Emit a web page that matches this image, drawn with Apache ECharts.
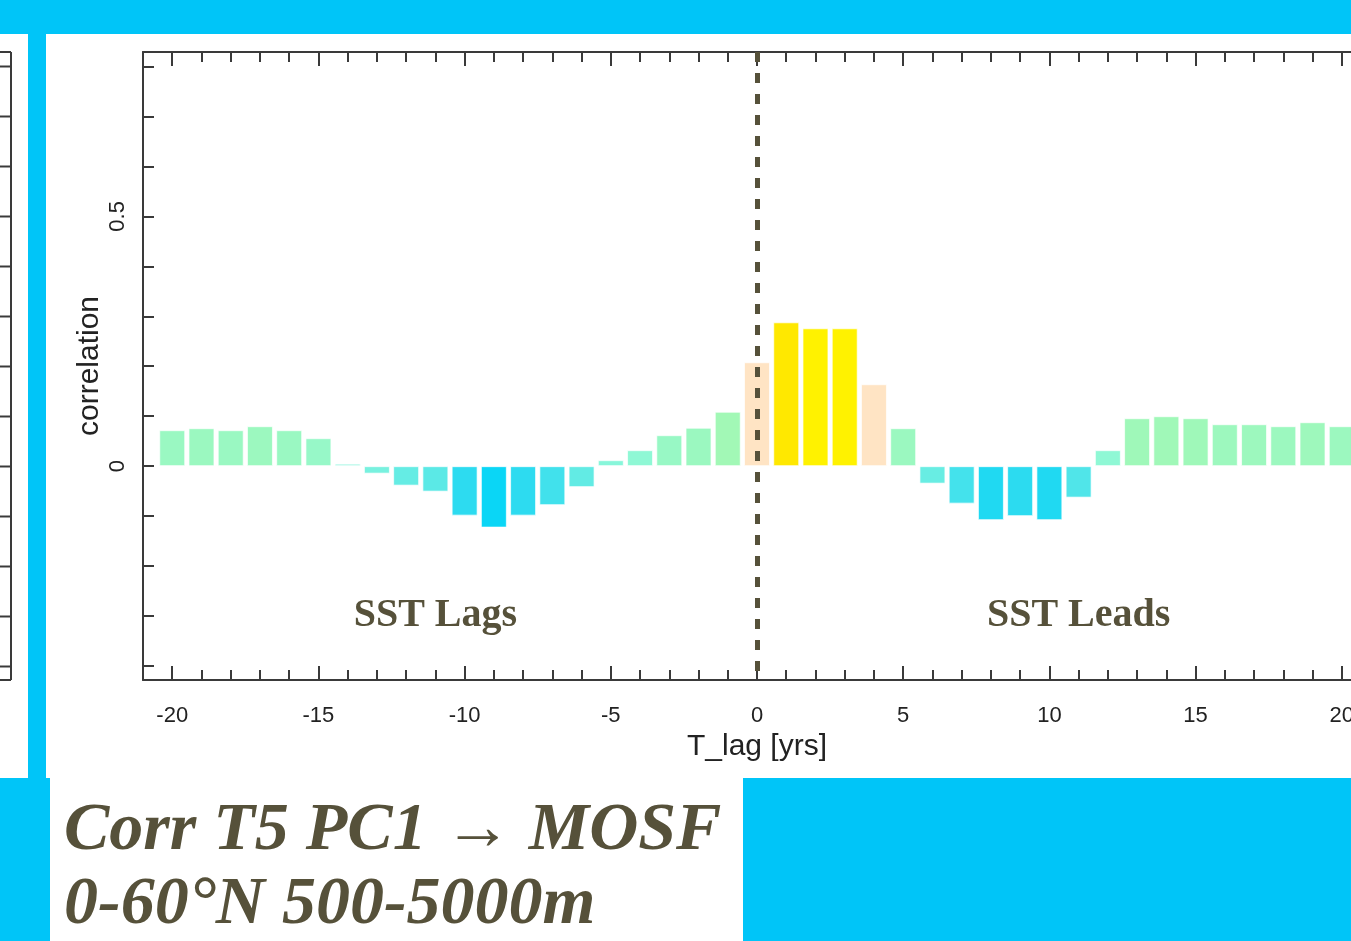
<!DOCTYPE html>
<html>
<head>
<meta charset="utf-8">
<style>
html,body{margin:0;padding:0;background:#00C5F8;overflow:hidden;width:1351px;height:941px;}
#chart{width:1400px;height:941px;}
</style>
<script src="https://cdn.jsdelivr.net/npm/echarts@6/dist/echarts.min.js"></script>
</head>
<body>
<div id="chart"></div>
<script>
// ---- data ----
var lags = [-20,-19,-18,-17,-16,-15,-14,-13,-12,-11,-10,-9,-8,-7,-6,-5,-4,-3,-2,-1,0,1,2,3,4,5,6,7,8,9,10,11,12,13,14,15,16,17,18,19,20];
var corr = [0.072,0.076,0.072,0.080,0.072,0.056,0.005,-0.015,-0.039,-0.051,-0.099,-0.123,-0.099,-0.078,-0.042,0.012,0.032,0.062,0.077,0.109,
            0.208,0.288,0.276,0.276,0.164,0.076,-0.035,-0.075,-0.108,-0.100,-0.108,-0.063,0.032,0.096,0.100,0.096,0.084,0.084,0.080,0.088,0.080];
var xMajorTicks = [-20,-15,-10,-5,0,5,10,15,20];
var yTicks = [-0.4,-0.3,-0.2,-0.1,0,0.1,0.2,0.3,0.4,0.5,0.6,0.7,0.8];
var yLabels = [0,0.5];
var regionLabels = [{name:'SST Lags', x:-11, y:-0.3},{name:'SST Leads', x:11, y:-0.3}];
var titleLines = ['Corr T5 PC1 \u2192 MOSF','0-60\u00B0N 500-5000m'];
var xName = 'T_lag [yrs]';
var yName = 'correlation';

// ---- colour map (value -> colour) ----
function hex(c){return [parseInt(c.substr(1,2),16),parseInt(c.substr(3,2),16),parseInt(c.substr(5,2),16)];}
var stops = [[-0.13,'#00D4F8'],[-0.10,'#2CDBF0'],[-0.075,'#44E2EC'],[-0.05,'#5CE9E6'],[-0.02,'#74F0E0'],[0.0,'#84F4DC'],[0.03,'#8EF8D6'],[0.06,'#98F8C6'],[0.10,'#A0F8B8'],[0.13,'#A6F8B2']];
function colorFor(v){
  if (v >= 0.285) return '#FFE800';
  if (v >= 0.25) return '#FFF200';
  if (v >= 0.14) return '#FFE4C4';
  if (v <= stops[0][0]) return stops[0][1];
  for (var i=1;i<stops.length;i++){
    if (v <= stops[i][0]){
      var a=stops[i-1], b=stops[i], t=(v-a[0])/(b[0]-a[0]);
      var ca=hex(a[1]), cb=hex(b[1]);
      return 'rgb('+Math.round(ca[0]+(cb[0]-ca[0])*t)+','+Math.round(ca[1]+(cb[1]-ca[1])*t)+','+Math.round(ca[2]+(cb[2]-ca[2])*t)+')';
    }
  }
  return stops[stops.length-1][1];
}

var ink = '#56513A';
var axisCol = '#3a3a3a';
var allInts = lags.slice();

var chart = echarts.init(document.getElementById('chart'));
var barData = lags.map(function(l,i){return {value:[l,corr[i]], itemStyle:{color:colorFor(corr[i])}};});

var yMin = -0.428, yMax = 0.829, xMin = -21, xMax = 21;

function xAx(pos, ticks, len, showLine, labels){
  return {
    type:'value', gridIndex:0, position:pos, min:xMin, max:xMax,
    axisLine:{show:showLine, onZero:false, lineStyle:{color:axisCol,width:2}},
    axisTick:{show:true, inside:true, length:len, customValues:ticks, lineStyle:{color:axisCol,width:2}},
    axisLabel:labels ? {show:true, customValues:xMajorTicks, color:'#222', fontFamily:'Liberation Sans', fontSize:22, margin:25} : {show:false},
    splitLine:{show:false}
  };
}

var option = {
  backgroundColor:'#00C5F8',
  animation:false,
  grid:[{left:143, top:52, width:1228, height:628, containLabel:false}],
  xAxis:[
    Object.assign(xAx('bottom',allInts,10,true,false),{name:xName, nameLocation:'middle', nameGap:52, nameMoveOverlap:false, nameTextStyle:{color:'#222', fontFamily:'Liberation Sans', fontSize:30}}),
    xAx('bottom',xMajorTicks,14,false,true),
    xAx('top',allInts,10,true,false),
    xAx('top',xMajorTicks,14,false,false)
  ],
  yAxis:[
    {type:'value', gridIndex:0, position:'left', min:yMin, max:yMax,
     axisLine:{show:true, onZero:false, lineStyle:{color:axisCol,width:2}},
     axisTick:{show:true, inside:true, length:11, customValues:yTicks, lineStyle:{color:axisCol,width:2}},
     axisLabel:{show:true, customValues:yLabels, rotate:90, margin:14, color:'#222', fontFamily:'Liberation Sans', fontSize:22,
       formatter:function(v){return String(Math.round(v*10)/10);}},
     splitLine:{show:false},
     name:yName, nameLocation:'middle', nameRotate:90, nameGap:38, nameMoveOverlap:false,
     nameTextStyle:{color:'#222', fontFamily:'Liberation Sans', fontSize:30}}
  ],
  series:[
    {type:'bar', xAxisIndex:0, yAxisIndex:0, data:barData, barWidth:26,
     itemStyle:{borderColor:'rgba(255,255,255,0.7)', borderWidth:1},
     markLine:{silent:true, symbol:['none','none'], label:{show:false},
       lineStyle:{color:ink, width:5, type:[10,11]},
       data:[[{coord:[0,yMax]},{coord:[0,yMin]}]]},
     markPoint:{silent:true, symbol:'circle', symbolSize:0,
       label:{show:true, position:'inside', color:ink, fontFamily:'Liberation Serif', fontWeight:'bold', fontSize:40,
         formatter:function(p){return p.name;}},
       data:regionLabels.map(function(r){return {name:r.name, coord:[r.x,r.y]};})}
    }
  ],
  graphic:[
    {type:'rect', z:-10, silent:true, shape:{x:0,y:34,width:28,height:744}, style:{fill:'#fff'}},
    {type:'rect', z:-10, silent:true, shape:{x:46,y:34,width:1360,height:744}, style:{fill:'#fff'}},
    {type:'rect', z:-10, silent:true, shape:{x:50,y:778,width:693,height:163}, style:{fill:'#fff'}},
    {type:'text', z:10, silent:true, x:64, y:831, style:{text:titleLines[0], fill:ink, font:'italic bold 68px "Liberation Serif"', verticalAlign:'middle', align:'left'}},
    {type:'text', z:10, silent:true, x:64, y:905, style:{text:titleLines[1], fill:ink, font:'italic bold 68px "Liberation Serif"', verticalAlign:'middle', align:'left'}}
  ]
};
chart.setOption(option);

// frame of the neighbouring (cut-off) panel on the left, sharing the same y scale
var yTop = chart.convertToPixel({yAxisIndex:0}, yMax);
var yBot = chart.convertToPixel({yAxisIndex:0}, yMin);
var frameX = 11;
var extra = [
  {type:'line', z:5, silent:true, shape:{x1:frameX,y1:yTop,x2:frameX,y2:yBot}, style:{stroke:axisCol,lineWidth:2}},
  {type:'line', z:5, silent:true, shape:{x1:0,y1:yTop,x2:frameX,y2:yTop}, style:{stroke:axisCol,lineWidth:2}},
  {type:'line', z:5, silent:true, shape:{x1:0,y1:yBot,x2:frameX,y2:yBot}, style:{stroke:axisCol,lineWidth:2}}
];
yTicks.forEach(function(t){
  var py = Math.round(chart.convertToPixel({yAxisIndex:0}, t)) + 0.5;
  extra.push({type:'line', z:5, silent:true, shape:{x1:0,y1:py,x2:frameX,y2:py}, style:{stroke:axisCol,lineWidth:2}});
});
chart.setOption({graphic: option.graphic.concat(extra)});
</script>
</body>
</html>
